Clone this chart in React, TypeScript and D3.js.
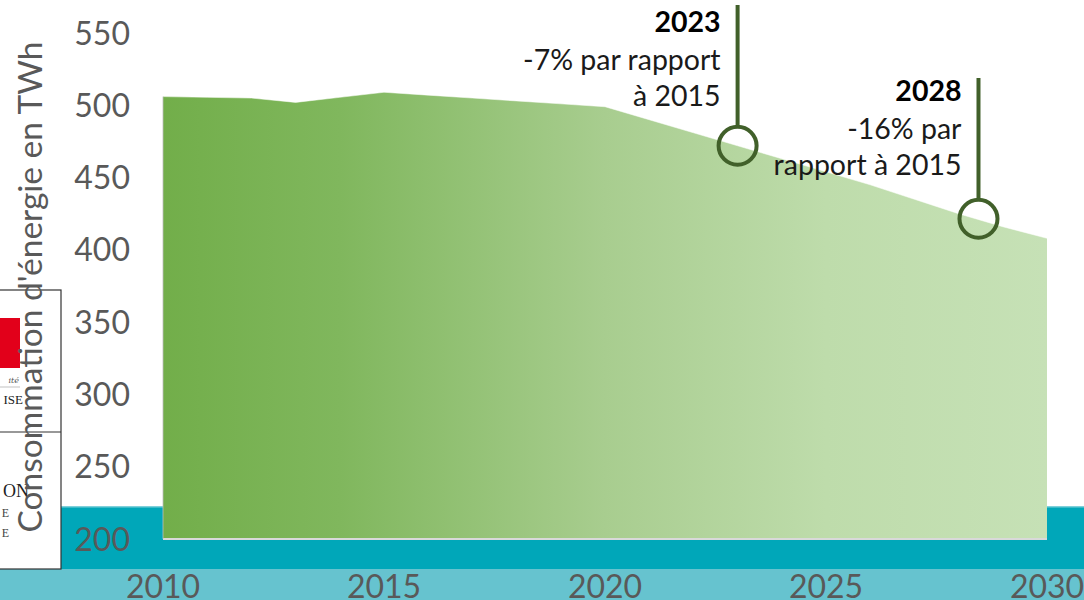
import React from "react";
import * as d3 from "d3";

const years = [2010, 2011, 2012, 2013, 2014, 2015, 2016, 2017, 2018, 2019, 2020, 2021, 2022, 2023, 2024, 2025, 2026, 2027, 2028, 2029, 2030];
const consumption = [506, 505.5, 505, 502, 505.5, 509, 507, 505, 503, 501, 499, 490, 481, 472, 463, 454, 445, 435, 425, 416, 408];
const yTicks = [200, 250, 300, 350, 400, 450, 500, 550];
const xTicks = [2010, 2015, 2020, 2025, 2030];
const annotations = [
  { year: 2023, value: 472, title: "2023", lines: ["-7% par rapport", "à 2015"], top: 5, textTop: 32 },
  { year: 2028.45, value: 421.5, title: "2028", lines: ["-16% par", "rapport à 2015"], top: 78, textTop: 101 },
];
const yTitle = "Consommation d'énergie en TWh";

const W = 1084;
const H = 600;

export default function App() {
  const x = d3.scaleLinear().domain([2010, 2030]).range([163, 1047]);
  const y = d3.scaleLinear().domain([200, 550]).range([539, 33]);
  const data = years.map((yr, i) => ({ yr, v: consumption[i] }));
  const area = d3
    .area<{ yr: number; v: number }>()
    .x((d) => x(d.yr))
    .y0(y(200))
    .y1((d) => y(d.v));
  const topLine = d3
    .line<{ yr: number; v: number }>()
    .x((d) => x(d.yr))
    .y((d) => y(d.v));

  const font = "Lato, 'Open Sans', sans-serif";
  const grey = "#595959";
  const dark = "#41602a";

  return (
    <div style={{ position: "fixed", left: 0, top: 0, width: W, height: H, background: "#fff" }}>
      <svg width={W} height={H} style={{ display: "block" }}>
        <defs>
          <linearGradient id="g" x1={x(2010)} x2={x(2030)} y1={0} y2={0} gradientUnits="userSpaceOnUse">
            <stop offset="0" stopColor="#72ae4a" />
            <stop offset="0.2" stopColor="#80b75d" />
            <stop offset="0.5" stopColor="#a8cd8f" />
            <stop offset="0.75" stopColor="#bedcab" />
            <stop offset="1" stopColor="#c6e1b6" />
          </linearGradient>
        </defs>

        {/* background bands */}
        <rect x={0} y={569} width={W} height={H - 569} fill="#66c3cf" />
        <rect x={61} y={507} width={W - 61} height={62} fill="#00a7b9" />
        <rect x={61} y={506} width={W - 61} height={1.5} fill="#7fd0da" />

        {/* logo box fragment */}
        <rect x={-2} y={290} width={63} height={279} fill="#fff" stroke="#333" strokeWidth={1.2} />
        <line x1={-2} x2={61} y1={432} y2={432} stroke="#333" strokeWidth={1.2} />
        <rect x={0} y={318} width={20} height={50} fill="#e2001a" />
        <text x={19} y={383} textAnchor="end" fontFamily="'DejaVu Serif', serif" fontStyle="italic" fontSize={8} fill="#555">ité</text>
        <line x1={0} x2={20} y1={387} y2={387} stroke="#999" strokeWidth={0.6} />
        <text x={23} y={404} textAnchor="end" fontFamily="'Liberation Serif', serif" fontSize={13} fill="#222">ISE</text>
        <text x={29} y={497} textAnchor="end" fontFamily="'Liberation Serif', serif" fontSize={18} fill="#222">ON</text>
        <text x={9} y={517} textAnchor="end" fontFamily="'Liberation Serif', serif" fontSize={12} fill="#444">E</text>
        <text x={9} y={537} textAnchor="end" fontFamily="'Liberation Serif', serif" fontSize={12} fill="#444">E</text>

        {/* area */}
        <path d={area(data) ?? ""} fill="url(#g)" />
        <path d={topLine(data) ?? ""} fill="none" stroke="#ffffff" strokeOpacity={0.5} strokeWidth={1} />
        <line x1={x(2010)} x2={x(2030)} y1={y(200)} y2={y(200)} stroke="#d9d9d9" strokeWidth={2} />
        <line x1={x(2010)} x2={x(2010)} y1={y(consumption[0])} y2={y(200)} stroke="#bcbcbc" strokeWidth={0.8} />

        {/* y ticks */}
        {yTicks.map((t) => (
          <text key={t} x={130} y={y(t)} dy="0.36em" textAnchor="end" fontFamily={font} fontSize={32} fill={grey}>
            {t}
          </text>
        ))}

        {/* x ticks */}
        {xTicks.map((t) => (
          <text key={t} x={x(t)} y={598} textAnchor="middle" fontFamily={font} fontSize={32} fill={grey}>
            {t}
          </text>
        ))}

        {/* y title */}
        <text
          transform={`translate(42,${287}) rotate(-90)`}
          textAnchor="middle"
          fontFamily={font}
          fontSize={33.5}
          fill={grey}
        >
          {yTitle}
        </text>

        {/* annotations */}
        {annotations.map((a) => {
          const cx = x(a.year);
          const cy = y(a.value);
          const r = 19;
          return (
            <g key={a.year}>
              <line x1={cx} x2={cx} y1={a.top} y2={cy - r} stroke={dark} strokeWidth={4} />
              <circle cx={cx} cy={cy} r={r} fill="none" stroke={dark} strokeWidth={4} />
              <text x={cx - 17} y={a.textTop} textAnchor="end" fontFamily={font} fontSize={28.5} fontWeight={700} fill="#000">
                {a.title}
              </text>
              {a.lines.map((l, i) => (
                <text key={i} x={cx - 17} y={a.textTop + 38 + i * 36} textAnchor="end" fontFamily={font} fontSize={28.5} fill="#1a1a1a">
                  {l}
                </text>
              ))}
            </g>
          );
        })}
      </svg>
    </div>
  );
}
